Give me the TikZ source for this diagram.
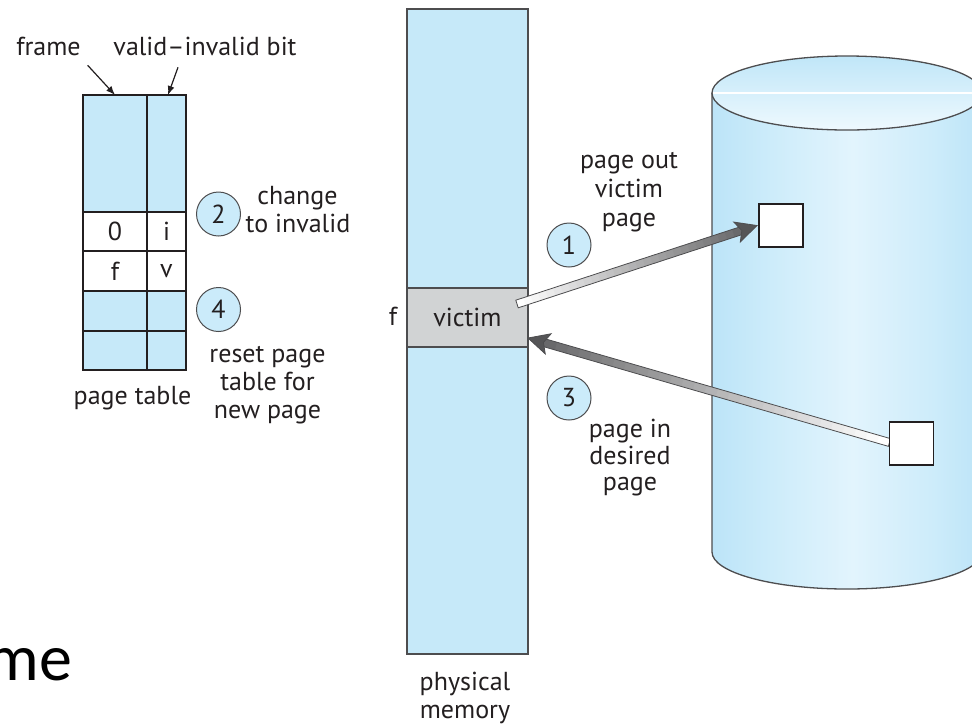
\documentclass[tikz,border=0pt]{standalone}
\usepackage{fontspec}
\setmainfont{PT Sans}
\newfontfamily\slidefont{Carlito}
\usetikzlibrary{calc,arrows.meta}
\definecolor{ink}{HTML}{231F20}
\definecolor{outl}{HTML}{4D4D4F}
\definecolor{boxblue}{HTML}{C6E9F9}
\definecolor{circblue}{HTML}{CBEBFA}
\definecolor{victimgray}{HTML}{D1D3D4}
\definecolor{cylA}{HTML}{BCE4F8}
\definecolor{cylB}{HTML}{CDECFA}
\definecolor{cylC}{HTML}{E2F4FD}
\definecolor{topA}{HTML}{C0E6F8}
\definecolor{topB}{HTML}{EEF9FE}
\definecolor{arrowdark}{HTML}{555557}
\definecolor{arrowlight}{HTML}{FFFFFF}
\pgfdeclarehorizontalshading{cylbody}{100bp}{color(0bp)=(cylA); color(25bp)=(cylA); color(36bp)=(cylB); color(51bp)=(cylC); color(66bp)=(cylB); color(75bp)=(cylA); color(100bp)=(cylA)}
\newcommand\fatarrow[2]{%
  \path let \p1=(#1), \p2=(#2) in \pgfextra{%
    \pgfmathsetmacro\faangtmp{atan2(\y2-\y1,\x2-\x1)}%
    \pgfmathsetmacro\falentmp{veclen(\x2-\x1,\y2-\y1)}%
    \xdef\faang{\faangtmp}\xdef\falen{\falentmp}};
  \begin{scope}[shift={(#1)}, rotate=\faang, x=1pt, y=1pt]
    \pgfmathsetmacro\fashaft{\falen-17}
    \foreach \i in {0,...,29}{%
      \pgfmathsetmacro\fa{\fashaft*\i/30}%
      \pgfmathsetmacro\fb{\fashaft*(\i+1)/30+0.6}%
      \pgfmathtruncatemacro\fp{88*\i/29}%
      \fill[arrowdark!\fp!arrowlight] (\fa,-4) -- (\fb,-4) -- (\fb,4) -- (\fa,4) -- cycle;}
    \draw[arrowline] (\fashaft,-4) -- (0,-4) -- (0,4) -- (\fashaft,4);
    \filldraw[arrowline, fill=arrowdark] (\falen,0) -- (\falen-21,10.5) -- (\falen-16,0) -- (\falen-21,-10.5) -- cycle;
  \end{scope}}
\begin{document}
\begin{tikzpicture}[x=1pt, y=-1pt,
  every node/.style={inner sep=0pt, outer sep=0pt, text=ink},
  font=\fontsize{26}{29}\selectfont,
  cell/.style={draw=ink, line width=1.4pt, rectangle},
  bluecell/.style={cell, fill=boxblue},
  whitecell/.style={cell, fill=white},
  stepcirc/.style={circle, draw=outl, line width=1pt, fill=circblue, minimum size=44pt},
  lbl/.style={anchor=base},
  ptr/.style={draw=ink, line width=1.2pt, -{Latex[length=9pt, width=7pt]}},
  arrowline/.style={draw=outl, line width=0.8pt, line join=miter},
  diskbox/.style={draw=ink, line width=1.3pt, fill=white, rectangle, minimum width=44pt, minimum height=43pt}]
\useasboundingbox (0,0) rectangle (972,724);
\clip (0,0) rectangle (972,724);

% slide remnant
\node[anchor=base east, font=\slidefont\fontsize{66}{70}\selectfont, text=black] (slide) at (72,680) {me};

% ---------- page table ----------
\node[bluecell, minimum width=64pt, minimum height=117pt] (f1) at (115,153.5) {};
\node[bluecell, minimum width=39pt, minimum height=117pt] (b1) at (166.5,153.5) {};
\node[whitecell, minimum width=64pt, minimum height=39pt] (f2) at (115,231.5) {0};
\node[whitecell, minimum width=39pt, minimum height=39pt] (b2) at (166.5,231.5) {i};
\node[whitecell, minimum width=64pt, minimum height=40pt] (f3) at (115,271) {f};
\node[whitecell, minimum width=39pt, minimum height=40pt] (b3) at (166.5,271) {v};
\node[bluecell, minimum width=64pt, minimum height=40pt] (f4) at (115,311) {};
\node[bluecell, minimum width=39pt, minimum height=40pt] (b4) at (166.5,311) {};
\node[bluecell, minimum width=64pt, minimum height=39pt] (f5) at (115,350.5) {};
\node[bluecell, minimum width=39pt, minimum height=39pt] (b5) at (166.5,350.5) {};

\node[lbl] (lframe) at (48.5,55) {frame};
\node[lbl] (lvalid) at (205,55) {valid–invalid bit};
\node[lbl] (lpt) at (132.5,404) {page table};
\draw[ptr] ([shift={(7,10)}]lframe.south east) -- (f1.north);
\draw[ptr] ([shift={(-27,12)}]lvalid.south) -- ([xshift=1.5pt]b1.north);

\node[stepcirc] (c2) at (218.5,214) {2};
\node[lbl] (l2a) at (297.5,204) {change};
\node[lbl] (l2b) at (298,232) {to invalid};
\node[stepcirc] (c4) at (218.5,309.5) {4};
\node[lbl] (l4a) at (267.5,362) {reset page};
\node[lbl] (l4b) at (267.5,390) {table for};
\node[lbl] (l4c) at (267.5,418) {new page};

% ---------- physical memory ----------
\node[draw=outl, line width=1.3pt, fill=boxblue, minimum width=121pt, minimum height=645pt] (mem) at (467.5,331.5) {};
\node[draw=outl, line width=1.3pt, fill=victimgray, minimum width=121pt, minimum height=59pt] (victim) at (467.5,317.5) {victim};
\node[lbl] (lf) at (393,325) {f};
\node[lbl] (lpm1) at (465,690) {physical};
\node[lbl] (lpm2) at (465,718) {memory};

% ---------- disk ----------
\shade[shading=cylbody] (712,93) -- (712,552) arc[start angle=180, end angle=0, x radius=135, y radius=37] -- (982,93) -- cycle;
\draw[outl, line width=1.3pt] (712,93) -- (712,552) arc[start angle=180, end angle=0, x radius=135, y radius=37] -- (982,93);
\shade[top color=topA, bottom color=topB] (847,93) ellipse[x radius=135, y radius=37];
\draw[white, line width=1.5pt] (712,93) -- (982,93);
\draw[outl, line width=1.3pt] (847,93) ellipse[x radius=135, y radius=37];

\node[diskbox] (sqA) at (781,225.5) {};
\node[diskbox] (sqB) at (911.5,443.5) {};

% ---------- steps 1 and 3 ----------
\node[stepcirc] (c1) at (569,245) {1};
\node[lbl] (l1a) at (629,168) {page out};
\node[lbl] (l1b) at (629,197) {victim};
\node[lbl] (l1c) at (629,226) {page};
\node[stepcirc] (c3) at (569,398) {3};
\node[lbl] (l3a) at (630,437) {page in};
\node[lbl] (l3b) at (630,464) {desired};
\node[lbl] (l3c) at (630,490) {page};

\coordinate (t1) at ([shift={(-11,-13.5)}]victim.east);
\coordinate (h1) at ([xshift=-2pt]sqA.west);
\fatarrow{t1}{h1}
\coordinate (t3) at ([shift={(0,-1)}]sqB.west);
\coordinate (h3) at ([shift={(0,20.5)}]victim.east);
\fatarrow{t3}{h3}
\node[diskbox] at (sqB) {};
\end{tikzpicture}
\end{document}
